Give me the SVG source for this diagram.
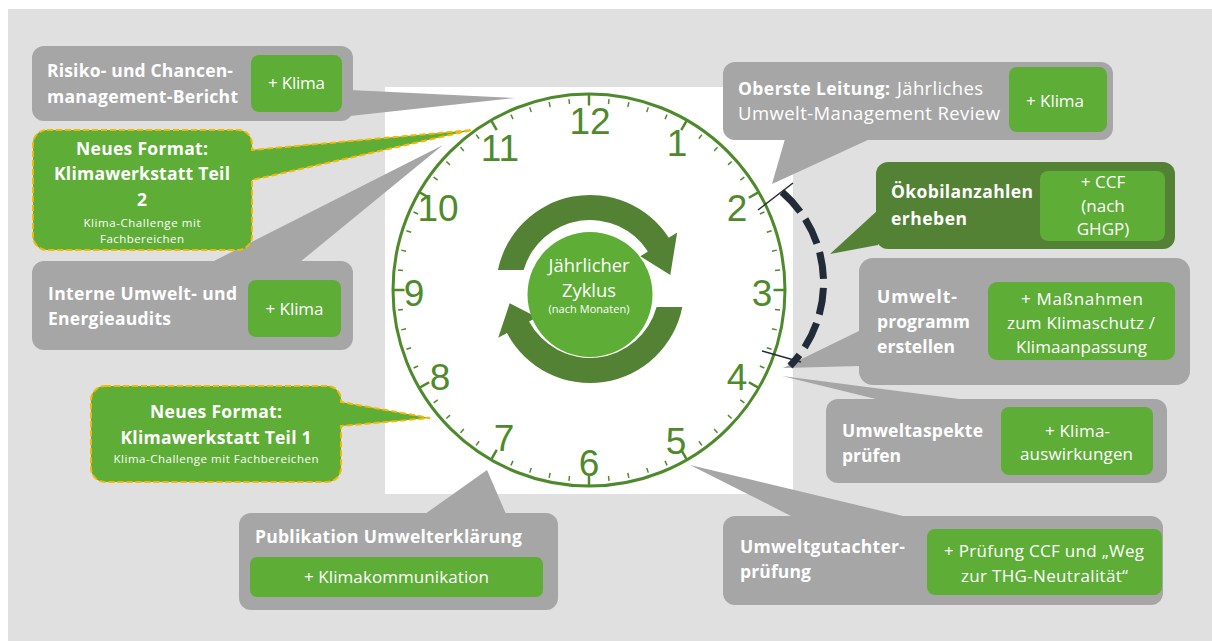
<svg xmlns="http://www.w3.org/2000/svg" width="1212" height="641" viewBox="0 0 1212 641">
  <style>
    .box { fill: #a6a6a6; }
    .gbox { fill: #5dad36; }
    .dbox { fill: #548235; }
    .t { font-family: "Open Sans", "Liberation Sans", sans-serif; fill: #ffffff; }
    .b { font-weight: 700; font-size: 17.5px; }
    .r { font-size: 17px; }
    .rl { font-size: 18.5px; }
    .s { font-size: 11.5px; }
    .c { text-anchor: middle; }
    .num { font-family: "Liberation Sans", Arial, sans-serif; font-size: 37px; fill: #4e8a2b; text-anchor: middle; }
    .teil { fill: #5dad36; stroke: #f5b800; stroke-width: 2; stroke-dasharray: 6 3; }
  </style>

  <!-- canvas -->
  <rect x="0" y="0" width="1212" height="641" fill="#ffffff"/>
  <rect x="8" y="9" width="1204" height="632" fill="#e0e0e0"/>
  <rect x="385" y="87" width="408" height="407" fill="#ffffff"/>

  <!-- clock face -->
  <g id="clock">
    <circle cx="589" cy="290" r="196" fill="none" stroke="#4e8a2b" stroke-width="3"/>
    <!-- minute ticks -->
    <circle cx="589" cy="290" r="189.5" fill="none" stroke="#4e8a2b" stroke-width="5" pathLength="60" stroke-dasharray="0.075 0.925" stroke-dashoffset="0.0375"/>
    <!-- hour ticks -->
    <circle cx="589" cy="290" r="190" fill="none" stroke="#4e8a2b" stroke-width="11" pathLength="12" stroke-dasharray="0.025 0.975" stroke-dashoffset="0.0125"/>
    <text class="num" x="590" y="133.5">12</text>
    <text class="num" x="677" y="155.5">1</text>
    <text class="num" x="737" y="220.5">2</text>
    <text class="num" x="762" y="305.5">3</text>
    <text class="num" x="737" y="389.5">4</text>
    <text class="num" x="676" y="453.5">5</text>
    <text class="num" x="589" y="475.5">6</text>
    <text class="num" x="504" y="450.5">7</text>
    <text class="num" x="440" y="389.5">8</text>
    <text class="num" x="414" y="305.5">9</text>
    <text class="num" x="438" y="220.5">10</text>
    <text class="num" x="500" y="160.5">11</text>
  </g>

  <!-- annual cycle in the middle -->
  <g id="cycle">
    <path class="dbox" d="M497.9,270 A94 94 0 0 1 668.8,237.8 L677.2,232.4 L670.3,274.9 L640.3,256.3 L647.9,251.4 A69 69 0 0 0 523.7,270 Z"/>
    <path class="dbox" d="M682.3,307 A94 94 0 0 1 507,333.1 L498.2,337.8 L509.7,303.2 L537,317.2 L529.1,321.4 A69 69 0 0 0 656.6,307 Z"/>
    <circle cx="590" cy="294.5" r="62.5" fill="#5dad36"/>
    <text class="t c" x="589" y="272" font-size="18.4px" textLength="81">Jährlicher</text>
    <text class="t c" x="589" y="297" font-size="18.4px">Zyklus</text>
    <text class="t c" x="589" y="313" font-size="11px" textLength="81">(nach Monaten)</text>
  </g>

  <!-- callout tails and the month bracket -->
  <g id="connectors">
    <polygon class="box" points="350,90 515,98 350,116"/>
    <polygon class="box" points="212,262 443,145 300,262"/>
    <polygon class="box" points="425,514 487,470 506,514"/>
    <polygon class="box" points="785,139 772,184 870,139"/>
    <polygon class="dbox" points="878,210 830,254 878,245"/>
    <polygon class="box" points="861,330 783,368 861,366"/>
    <polygon class="box" points="782,376 967,400 880,400"/>
    <polygon class="box" points="690,465 907,517 793,517"/>
    <path d="M782,192 A120 120 0 0 1 790,366" fill="none" stroke="#222b38" stroke-width="7" stroke-dasharray="27 9"/>
    <line x1="758" y1="210" x2="793" y2="183" stroke="#222b38" stroke-width="1.5"/>
    <line x1="762" y1="351" x2="801" y2="362" stroke="#222b38" stroke-width="1.5"/>
  </g>

  <!-- left side -->
  <g id="risiko">
    <rect class="box" x="32" y="46" width="321" height="75" rx="12"/>
    <rect class="gbox" x="251" y="55" width="91" height="57" rx="8"/>
    <text class="t b" x="47" y="77" textLength="186">Risiko- und Chancen-</text>
    <text class="t b" x="47" y="103" textLength="191">management-Bericht</text>
    <text class="t r c" x="296.5" y="89" textLength="57">+ Klima</text>
  </g>

  <g id="klimawerkstatt-2">
    <path class="teil" d="M47,130 H238 A14 14 0 0 1 252,144 V150 L472,130 L252,180 V236 A14 14 0 0 1 238,250 H47 A14 14 0 0 1 33,236 V144 A14 14 0 0 1 47,130 Z"/>
    <text class="t b c" x="142" y="155" textLength="132">Neues Format:</text>
    <text class="t b c" x="142" y="180" textLength="176">Klimawerkstatt Teil</text>
    <text class="t b c" x="142" y="206">2</text>
    <text class="t s c" x="142" y="227" textLength="117">Klima-Challenge  mit</text>
    <text class="t s c" x="142" y="243" textLength="84">Fachbereichen</text>
  </g>

  <g id="audits">
    <rect class="box" x="32" y="261" width="321" height="89" rx="12"/>
    <rect class="gbox" x="248" y="280" width="93" height="57" rx="8"/>
    <text class="t b" x="48" y="300" textLength="189">Interne Umwelt- und</text>
    <text class="t b" x="48" y="325" textLength="123">Energieaudits</text>
    <text class="t r c" x="294.5" y="315" textLength="58">+ Klima</text>
  </g>

  <g id="klimawerkstatt-1">
    <path class="teil" d="M105,386 H327 A14 14 0 0 1 341,400 V402 L430,418 L341,426 V468 A14 14 0 0 1 327,482 H105 A14 14 0 0 1 91,468 V400 A14 14 0 0 1 105,386 Z"/>
    <text class="t b c" x="216" y="418" textLength="132">Neues Format:</text>
    <text class="t b c" x="216" y="444" textLength="191">Klimawerkstatt Teil 1</text>
    <text class="t s c" x="216" y="463" textLength="205">Klima-Challenge  mit Fachbereichen</text>
  </g>

  <g id="publikation">
    <rect class="box" x="239" y="513" width="319" height="97" rx="12"/>
    <rect class="gbox" x="250" y="557" width="293" height="40" rx="7"/>
    <text class="t b" x="255" y="543" textLength="267">Publikation Umwelterklärung</text>
    <text class="t r c" x="396.5" y="583" textLength="185">+ Klimakommunikation</text>
  </g>

  <!-- right side -->
  <g id="review">
    <rect class="box" x="723" y="62" width="390" height="78" rx="12"/>
    <rect class="gbox" x="1009" y="67" width="98" height="65" rx="8"/>
    <text class="t b" x="738" y="95" textLength="152">Oberste Leitung:</text>
    <text class="t rl" x="897" y="95" textLength="86">Jährliches</text>
    <text class="t rl" x="738" y="120" textLength="262">Umwelt-Management Review</text>
    <text class="t r c" x="1055" y="107" textLength="58">+ Klima</text>
  </g>

  <g id="oekobilanz">
    <rect class="dbox" x="876" y="162" width="299" height="87" rx="12"/>
    <rect class="gbox" x="1040" y="171" width="125" height="70" rx="8"/>
    <text class="t b" x="891" y="198" textLength="142">Ökobilanzahlen</text>
    <text class="t b" x="891" y="225" textLength="76">erheben</text>
    <text class="t r c" x="1103" y="188">+ CCF</text>
    <text class="t r c" x="1103" y="212">(nach</text>
    <text class="t r c" x="1103" y="235">GHGP)</text>
  </g>

  <g id="umweltprogramm">
    <rect class="box" x="859" y="258" width="331" height="127" rx="14"/>
    <rect class="gbox" x="988" y="282" width="187" height="78" rx="9"/>
    <text class="t b" x="877" y="303" textLength="80">Umwelt-</text>
    <text class="t b" x="877" y="328" textLength="93">programm</text>
    <text class="t b" x="877" y="353" textLength="78">erstellen</text>
    <text class="t r c" x="1082" y="305" textLength="122">+  Maßnahmen</text>
    <text class="t r c" x="1081" y="329" textLength="148">zum Klimaschutz /</text>
    <text class="t r c" x="1081.5" y="353" textLength="131">Klimaanpassung</text>
  </g>

  <g id="umweltaspekte">
    <rect class="box" x="826" y="399" width="341" height="84" rx="12"/>
    <rect class="gbox" x="1001" y="407" width="152" height="68" rx="8"/>
    <text class="t b" x="842" y="437" textLength="141">Umweltaspekte</text>
    <text class="t b" x="842" y="462" textLength="59">prüfen</text>
    <text class="t r c" x="1077.5" y="437" textLength="65">+ Klima-</text>
    <text class="t r c" x="1076.5" y="460" textLength="113">auswirkungen</text>
  </g>

  <g id="gutachter">
    <rect class="box" x="723" y="516" width="440" height="89" rx="12"/>
    <rect class="gbox" x="927" y="529" width="235" height="66" rx="8"/>
    <text class="t b" x="740" y="553" textLength="165">Umweltgutachter-</text>
    <text class="t b" x="740" y="578" textLength="71">prüfung</text>
    <text class="t r c" x="1044" y="557" textLength="200">+ Prüfung CCF und „Weg</text>
    <text class="t r c" x="1044.5" y="582" textLength="167">zur THG-Neutralität“</text>
  </g>
</svg>
